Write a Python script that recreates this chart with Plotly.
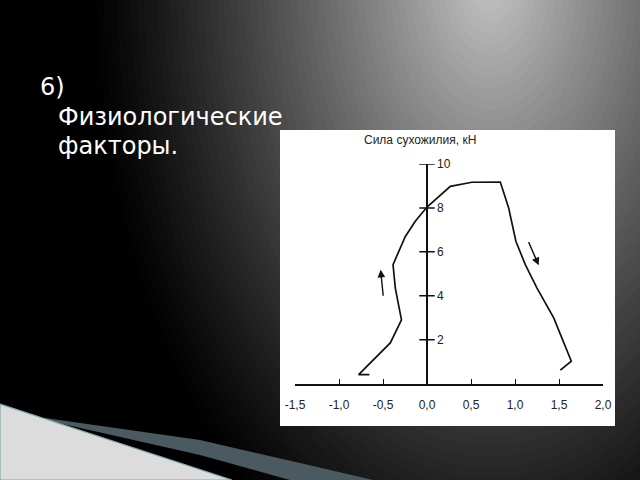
import plotly.graph_objects as go

# ---- data ----
x_strain = [-0.655, -0.777, -0.417, -0.29, -0.36, -0.386, -0.246, -0.133, 0.0,
            0.265, 0.51, 0.833, 0.928, 1.01, 1.117, 1.25, 1.44, 1.64, 1.515]
y_force = [0.41, 0.41, 1.85, 2.9, 4.35, 5.42, 6.7, 7.39, 8.04,
           8.98, 9.17, 9.18, 8.0, 6.48, 5.42, 4.35, 2.99, 1.02, 0.61]

x_tick_vals = [-1.5, -1.0, -0.5, 0.0, 0.5, 1.0, 1.5, 2.0]
x_tick_text = ["-1,5", "-1,0", "-0,5", "0,0", "0,5", "1,0", "1,5", "2,0"]
y_tick_vals = [2, 4, 6, 8, 10]
y_tick_text = ["2", "4", "6", "8", "10"]

# arrows: (tail_x, tail_y, head_x, head_y)
arrow_tail_x = [-0.496, 1.148]
arrow_tail_y = [3.93, 6.51]
arrow_head_x = [-0.527, 1.269]
arrow_head_y = [5.19, 5.39]

chart_title = "Сила сухожилия, кН"
slide_lines = ["6)", "Физиологические", "факторы."]

W, H = 640, 480

def px(x):
    return x / W

def py(y):
    return 1 - y / H

shapes = []
# background radial-ish gradient
cx, cy, rx, ry = 490, -20, 400, 650
N = 60
for k in range(N):
    d = 1 - k / N
    v = int(round(195 * (1 - d + 0.5 / N) ** 1.15))
    col = f"rgb({v},{v},{v})"
    shapes.append(dict(type="circle", xref="paper", yref="paper",
                       x0=px(cx - rx * d), x1=px(cx + rx * d),
                       y0=py(cy + ry * d), y1=py(cy - ry * d),
                       fillcolor=col, line=dict(width=0), layer="below"))

# bottom-left decoration: grey/teal band
band = [(45, 418), (200, 440), (300, 463), (373, 480), (290, 480), (200, 455), (45, 420)]
path = "M " + " L ".join(f"{px(a):.4f},{py(b):.4f}" for a, b in band) + " Z"
shapes.append(dict(type="path", xref="paper", yref="paper", path=path,
                   fillcolor="#4b5a61", line=dict(width=0), layer="below"))
# white hatched triangle
tri = [(0, 404), (232, 480), (0, 480)]
path = "M " + " L ".join(f"{px(a):.4f},{py(b):.4f}" for a, b in tri) + " Z"
shapes.append(dict(type="path", xref="paper", yref="paper", path=path,
                   fillcolor="#dcdcdc", line=dict(color="#7fa7ad", width=1.2), layer="below"))

# white picture box
shapes.append(dict(type="rect", xref="paper", yref="paper",
                   x0=px(280), x1=px(615), y0=py(426), y1=py(130),
                   fillcolor="white", line=dict(width=0), layer="below"))

fig = go.Figure()
fig.add_trace(go.Scatter(x=x_strain, y=y_force, mode="lines",
                         line=dict(color="#111", width=1.7), hoverinfo="skip"))
# y-axis cross ticks
fig.add_trace(go.Scatter(x=[0] * len(y_tick_vals), y=y_tick_vals, mode="markers",
                         marker=dict(symbol="line-ew", size=11,
                                     line=dict(color="#111", width=1.5)),
                         hoverinfo="skip"))

annotations = []
for tx, ty, hx, hy in zip(arrow_tail_x, arrow_tail_y, arrow_head_x, arrow_head_y):
    annotations.append(dict(x=hx, y=hy, ax=tx, ay=ty, xref="x", yref="y",
                            axref="x", ayref="y", text="", showarrow=True,
                            arrowhead=2, arrowsize=1.1, arrowwidth=1.4,
                            arrowcolor="#111"))

annotations.append(dict(text=chart_title, xref="paper", yref="paper",
                        x=px(420), y=py(140), xanchor="center", yanchor="middle",
                        showarrow=False,
                        font=dict(family="Liberation Sans", size=12, color="#222")))

slide_pos = [(38, 87), (56, 117), (56, 146)]
for t, (lx, ly) in zip(slide_lines, slide_pos):
    annotations.append(dict(text=t, xref="paper", yref="paper",
                            x=px(lx), y=py(ly), xanchor="left", yanchor="middle",
                            showarrow=False,
                            font=dict(family="DejaVu Sans", size=24, color="white")))

x0_px = 295
x1_px = 603
y0_px = 383.6
y10_px = 164
zero_px = x0_px + (0 - (-1.5)) / 3.5 * (x1_px - x0_px)

fig.update_layout(
    template="none",
    width=W, height=H,
    autosize=False,
    margin=dict(l=0, r=0, t=0, b=0, pad=0),
    paper_bgcolor="black",
    plot_bgcolor="rgba(0,0,0,0)",
    showlegend=False,
    shapes=shapes,
    annotations=annotations,
    xaxis=dict(domain=[px(x0_px), px(x1_px)], range=[-1.5, 2.0],
               showgrid=False, zeroline=True, zerolinecolor="#111", zerolinewidth=1.5,
               showline=True, linecolor="#111", linewidth=1.5,
               ticks="inside", ticklen=5, tickwidth=1.2, tickcolor="#111",
               tickvals=x_tick_vals, ticktext=x_tick_text,
               tickfont=dict(family="Liberation Sans", size=12, color="#222"),
               ticklabelstandoff=9,
               anchor="y", automargin=False, fixedrange=True),
    yaxis=dict(domain=[py(y0_px), py(y10_px)], range=[0, 10],
               showgrid=False, zeroline=False, showline=False, ticks="",
               tickvals=y_tick_vals, ticktext=y_tick_text,
               tickfont=dict(family="Liberation Sans", size=12, color="#222"),
               anchor="free", position=px(zero_px), side="right",
               ticklabelstandoff=9, automargin=False, fixedrange=True),
)

fig.write_html("out.html", config={"displayModeBar": False},
               post_script="document.body.style.margin='0';document.body.style.overflow='hidden';")
